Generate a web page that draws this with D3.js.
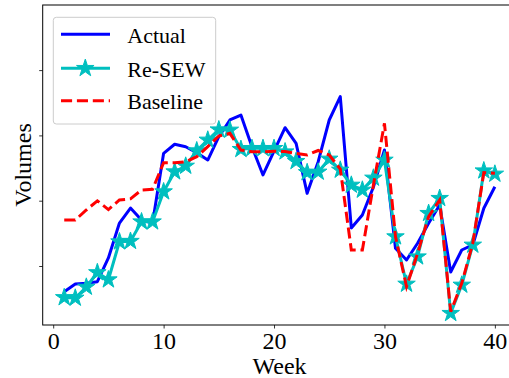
<!DOCTYPE html>
<html>
<head>
<meta charset="utf-8">
<script src="https://cdn.jsdelivr.net/npm/d3@7"></script>
<style>
  html, body { margin: 0; padding: 0; background: #fff; }
  svg { display: block; }
  text { font-family: "Liberation Serif", "Times New Roman", serif; fill: #000; }
</style>
</head>
<body>
<svg id="chart" width="509" height="378"></svg>
<script>
// ---- data ----
const weeks = d3.range(1, 41);
const actual = [0.606, 0.724, 0.735, 0.760, 1.123, 1.658, 1.888, 1.704, 1.658, 2.726,
                2.864, 2.827, 2.735, 2.623, 2.980, 3.236, 3.312, 2.827, 2.394, 2.761,
                3.118, 2.879, 2.113, 2.597, 3.236, 3.593, 1.582, 1.781, 2.210, 2.776,
                1.271, 1.092, 1.348, 1.654, 1.934, 0.908, 1.245, 1.322, 1.884, 2.214];
const reSEW = [0.518, 0.510, 0.678, 0.900, 0.790, 1.372, 1.380, 1.678, 1.678, 2.138,
               2.444, 2.531, 2.766, 2.930, 3.087, 3.083, 2.787, 2.802, 2.802, 2.802,
               2.750, 2.603, 2.432, 2.440, 2.639, 2.470, 2.240, 2.164, 2.348, 2.623,
               1.449, 0.724, 1.142, 1.807, 2.037, 0.276, 0.709, 1.322, 2.459, 2.409];
const baseline = [1.704, 1.704, 1.858, 1.998, 1.864, 2.011, 2.029, 2.164, 2.175, 2.582,
                  2.582, 2.597, 2.674, 2.827, 2.991, 3.032, 2.776, 2.750, 2.750, 2.757,
                  2.753, 2.723, 2.700, 2.769, 2.700, 2.485, 1.245, 1.245, 2.240, 3.185,
                  1.449, 0.683, 1.194, 1.755, 2.011, 0.300, 0.735, 1.348, 2.429, 2.420];
const xTicks = [0, 10, 20, 30, 40];
const yTicks = [1, 2, 3, 4];
const seriesNames = ["Actual", "Re-SEW", "Baseline"];

// ---- layout ----
const svg = d3.select("#chart");
const mLeft = 42.7, mRight = 516.4, mTop = 5, mBottom = 325;
const x = d3.scaleLinear().domain([-0.95, 41.95]).range([mLeft, mRight]);
const y = d3.scaleLinear().domain([0.0965, 4.997]).range([mBottom, mTop]);

svg.append("defs").append("clipPath").attr("id", "clip")
  .append("rect").attr("x", mLeft).attr("y", mTop)
  .attr("width", mRight - mLeft).attr("height", mBottom - mTop);

// axes
const xAxis = d3.axisBottom(x).tickValues(xTicks).tickSizeOuter(0).tickSize(3.5).tickPadding(3);
const gx = svg.append("g").attr("transform", `translate(0,${mBottom})`).call(xAxis);
gx.select(".domain").remove();
gx.selectAll(".tick line").attr("stroke", "#000").attr("stroke-width", 0.8);
gx.selectAll(".tick text").attr("font-size", 24).attr("font-family", "Liberation Serif").attr("dy", "0.72em");

const yAxis = d3.axisLeft(y).tickValues(yTicks).tickSizeOuter(0).tickSize(3.5).tickFormat("");
const gy = svg.append("g").attr("transform", `translate(${mLeft},0)`).call(yAxis);
gy.select(".domain").remove();
gy.selectAll(".tick line").attr("stroke", "#000").attr("stroke-width", 0.8);

// series
const line = d3.line().x((d, i) => x(weeks[i])).y(d => y(d));
const plot = svg.append("g").attr("clip-path", "url(#clip)");

plot.append("path").datum(actual).attr("d", line)
  .attr("fill", "none").attr("stroke", "#0000ff").attr("stroke-width", 3)
  .attr("stroke-linejoin", "round");

const starPath = (R) => {
  const pts = [];
  const r = R * 0.381966;
  for (let k = 0; k < 10; k++) {
    const a = -Math.PI / 2 + k * Math.PI / 5;
    const rad = k % 2 === 0 ? R : r;
    pts.push([rad * Math.cos(a), rad * Math.sin(a)]);
  }
  return "M" + pts.map(p => p[0].toFixed(2) + "," + p[1].toFixed(2)).join("L") + "Z";
};
const STAR = starPath(9.2);

plot.append("path").datum(reSEW).attr("d", line)
  .attr("fill", "none").attr("stroke", "#00bfbf").attr("stroke-width", 3)
  .attr("stroke-linejoin", "round");
plot.selectAll(".star").data(reSEW).enter().append("path")
  .attr("class", "star")
  .attr("d", STAR)
  .attr("transform", (d, i) => `translate(${x(weeks[i])},${y(d)})`)
  .attr("fill", "#00bfbf").attr("stroke", "#00bfbf").attr("stroke-width", 1)
  .attr("stroke-linejoin", "miter");

plot.append("path").datum(baseline).attr("d", line)
  .attr("fill", "none").attr("stroke", "#ff0000").attr("stroke-width", 3)
  .attr("stroke-dasharray", "11.1,4.8");

// frame (spines)
svg.append("rect").attr("x", mLeft).attr("y", mTop)
  .attr("width", mRight - mLeft).attr("height", mBottom - mTop)
  .attr("fill", "none").attr("stroke", "#000").attr("stroke-width", 1);

// axis labels
svg.append("text").attr("x", (mLeft + mRight) / 2).attr("y", 374)
  .attr("text-anchor", "middle").attr("font-size", 24).text("Week");
svg.append("text")
  .attr("transform", `translate(31,${(mTop + mBottom) / 2}) rotate(-90)`)
  .attr("text-anchor", "middle").attr("font-size", 24).text("Volumes");

// legend
const lg = svg.append("g");
lg.append("rect").attr("x", 53.3).attr("y", 17.3).attr("width", 162.4).attr("height", 106.7)
  .attr("rx", 3).attr("fill", "#fff").attr("fill-opacity", 0.8)
  .attr("stroke", "#cccccc").attr("stroke-width", 1);
const legY = [34.3, 68.3, 100.7];
const legStyles = [
  { color: "#0000ff", dash: null, star: false },
  { color: "#00bfbf", dash: null, star: true },
  { color: "#ff0000", dash: "11.1,4.8", star: false }
];
seriesNames.forEach((name, i) => {
  const st = legStyles[i];
  const ln = lg.append("line").attr("x1", 61).attr("x2", 110)
    .attr("y1", legY[i]).attr("y2", legY[i])
    .attr("stroke", st.color).attr("stroke-width", 3);
  if (st.dash) ln.attr("stroke-dasharray", st.dash);
  if (st.star) {
    lg.append("path").attr("d", STAR)
      .attr("transform", `translate(85.3,${legY[i]})`)
      .attr("fill", st.color).attr("stroke", st.color).attr("stroke-width", 1);
  }
  lg.append("text").attr("x", 127.3).attr("y", legY[i] + 8.3)
    .attr("font-size", 22).text(name);
});
</script>
</body>
</html>
